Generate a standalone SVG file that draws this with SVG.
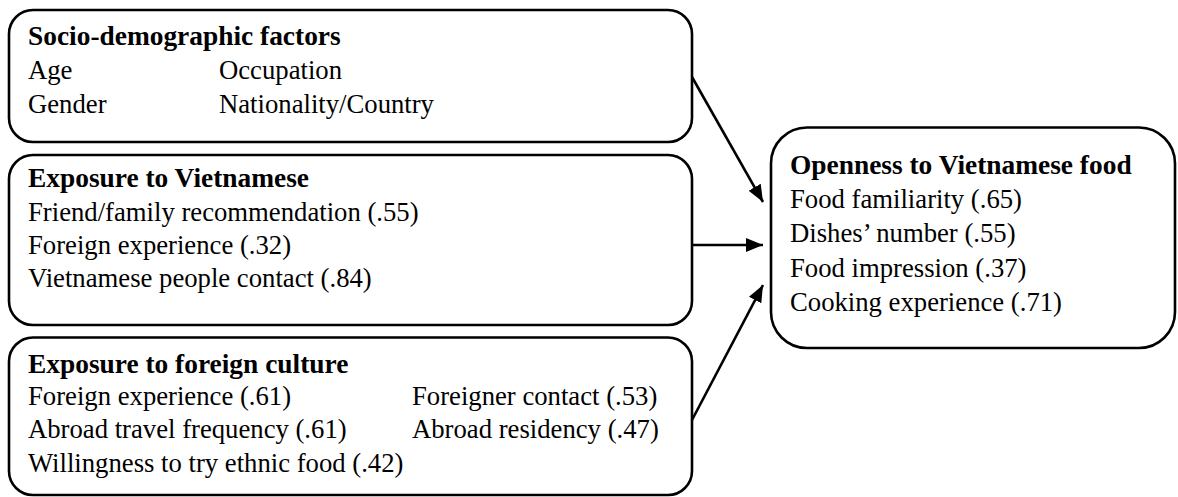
<svg xmlns="http://www.w3.org/2000/svg" width="1178" height="497" viewBox="0 0 1178 497">
<defs>
<marker id="ah" markerUnits="userSpaceOnUse" markerWidth="18" markerHeight="14" refX="17" refY="7" orient="auto">
<path d="M0,0 L17,7 L0,14 Z" fill="#000"/>
</marker>
<style>
.box{fill:#fff;stroke:#000;stroke-width:2.6}
.t{font-family:"Liberation Serif","Times New Roman",serif;font-size:26.7px;fill:#000}
.b{font-weight:bold;font-size:27.4px}
.c{stroke:#000;stroke-width:2.6;fill:none}
</style>
</defs>
<rect width="1178" height="497" fill="#fff"/>
<g id="socio">
<rect class="box" x="9" y="10" width="683" height="132" rx="24" ry="24"/>
<text class="t b" x="28" y="44.5">Socio-demographic factors</text>
<text class="t" x="28" y="78.5">Age</text>
<text class="t" x="219" y="78.5">Occupation</text>
<text class="t" x="28" y="112.5">Gender</text>
<text class="t" x="219" y="112.5">Nationality/Country</text>
</g>
<g id="vietnamese">
<rect class="box" x="9" y="155" width="683" height="170" rx="24" ry="24"/>
<text class="t b" x="28" y="187">Exposure to Vietnamese</text>
<text class="t" x="28" y="221">Friend/family recommendation (.55)</text>
<text class="t" x="28" y="254">Foreign experience (.32)</text>
<text class="t" x="28" y="287">Vietnamese people contact (.84)</text>
</g>
<g id="foreign">
<rect class="box" x="9" y="337.5" width="683" height="157.5" rx="24" ry="24"/>
<text class="t b" x="28" y="372.5">Exposure to foreign culture</text>
<text class="t" x="28" y="405">Foreign experience (.61)</text>
<text class="t" x="412" y="405">Foreigner contact (.53)</text>
<text class="t" x="28" y="438">Abroad travel frequency (.61)</text>
<text class="t" x="412" y="438">Abroad residency (.47)</text>
<text class="t" x="28" y="471.5">Willingness to try ethnic food (.42)</text>
</g>
<g id="openness">
<rect class="box" x="771" y="127.5" width="404" height="220.5" rx="36" ry="36"/>
<text class="t b" x="790" y="173.5">Openness to Vietnamese food</text>
<text class="t" x="790" y="207.5">Food familiarity (.65)</text>
<text class="t" x="790" y="242">Dishes’ number (.55)</text>
<text class="t" x="790" y="276.5">Food impression (.37)</text>
<text class="t" x="790" y="311">Cooking experience (.71)</text>
</g>
<g id="connectors">
<line class="c" x1="692" y1="77" x2="763" y2="202" marker-end="url(#ah)"/>
<line class="c" x1="692" y1="245" x2="763" y2="245" marker-end="url(#ah)"/>
<line class="c" x1="692" y1="420" x2="763" y2="285" marker-end="url(#ah)"/>
</g>
</svg>
